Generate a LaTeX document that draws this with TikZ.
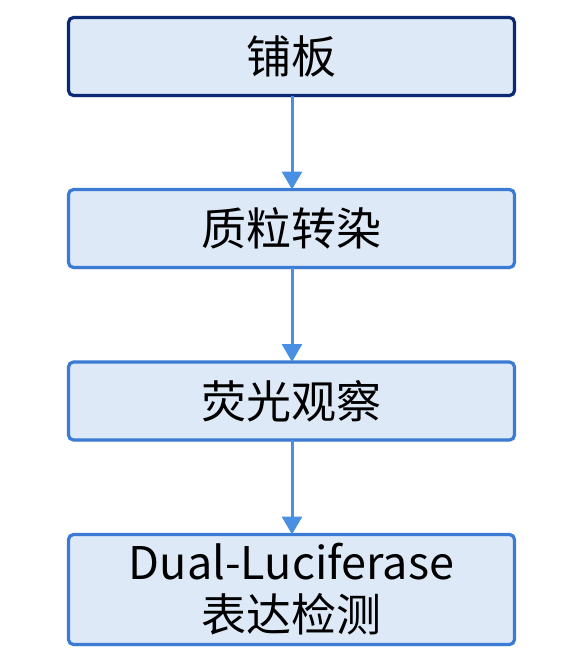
\documentclass[tikz,border=0pt]{standalone}
\usepackage{fontspec}
\setmainfont{Noto Sans CJK SC}
\usetikzlibrary{arrows.meta,shadows}
\definecolor{boxfill}{HTML}{DDE9F7}
\definecolor{navyline}{HTML}{0C2A74}
\definecolor{blueline}{HTML}{3B7BD4}
\definecolor{arrowblue}{HTML}{4A90E2}
\begin{document}
\begin{tikzpicture}[x=1pt,y=-1pt,
  stepbox/.style={draw=blueline, line width=3.2pt, fill=boxfill, rounded corners=5pt,
    minimum width=446pt, minimum height=78pt, inner sep=0pt, outer sep=0pt,
    align=center, font=\fontsize{45}{52}\selectfont,
    drop shadow={opacity=0.12, shadow xshift=1pt, shadow yshift=-2pt}},
  flow/.style={draw=arrowblue, line width=3pt, -{Triangle[width=20pt,length=18pt]}}]
\useasboundingbox (0,0) rectangle (578,656);
\node[stepbox, draw=navyline] (b1) at (291.5,56.5) {铺板};
\node[stepbox] (b2) at (291.5,228.5) {质粒转染};
\node[stepbox] (b3) at (291.5,401) {荧光观察};
\node[stepbox, minimum height=110pt] (b4) at (291.5,589.5) {Dual-Luciferase\\表达检测};
\draw[flow] (b1.south -| 292,0) -- (b2.north -| 292,0);
\draw[flow] (b2.south -| 292,0) -- (b3.north -| 292,0);
\draw[flow] (b3.south -| 292,0) -- (b4.north -| 292,0);
\end{tikzpicture}
\end{document}
